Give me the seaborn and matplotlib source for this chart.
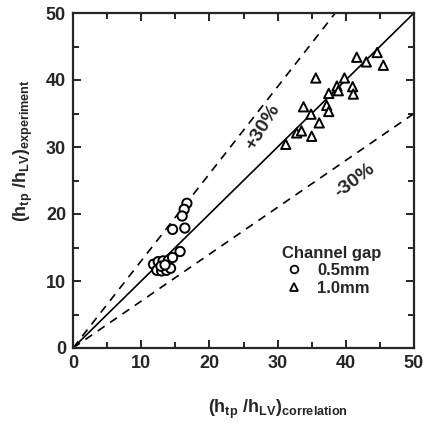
import numpy as np
import pandas as pd
import seaborn as sns
import matplotlib.pyplot as plt
from matplotlib.lines import Line2D
from matplotlib.ticker import MultipleLocator

# 0.5 mm channel gap
x_05 = [16.7, 16.3, 16.0, 16.4, 14.6, 15.7, 11.8, 12.5, 13.2, 14.0, 14.6, 12.3, 13.0, 13.7, 14.3, 12.9, 13.5]
y_05 = [21.6, 20.7, 19.7, 17.9, 17.7, 14.4, 12.5, 12.9, 13.0, 13.1, 13.5, 11.6, 11.5, 11.6, 11.9, 12.2, 12.4]
# 1.0 mm channel gap
x_10 = [41.6, 43.0, 44.6, 45.5, 35.6, 39.8, 38.7, 38.9, 41.0, 41.1, 37.5, 33.8, 37.2, 37.5, 34.9, 36.1, 32.8, 33.5, 35.0, 31.2]
y_10 = [43.4, 42.7, 44.1, 42.2, 40.3, 40.3, 39.1, 38.4, 39.0, 37.9, 38.0, 36.0, 36.2, 35.3, 34.9, 33.6, 32.1, 32.4, 31.6, 30.4]

ticks = [0, 10, 20, 30, 40, 50]
line_x = [0, 50]
line_y = [0, 50]
upper_x = [0, 50 / 1.3]
upper_y = [0, 50]
lower_x = [0, 50]
lower_y = [0, 35]

df = pd.DataFrame({
    'corr': x_05 + x_10,
    'exp': y_05 + y_10,
    'gap': ['0.5mm'] * len(x_05) + ['1.0mm'] * len(x_10),
})

sns.set_style('ticks')
plt.rcParams['font.family'] = ['Liberation Sans', 'DejaVu Sans']
plt.rcParams['font.weight'] = 'bold'
plt.rcParams['mathtext.fontset'] = 'custom'
plt.rcParams['mathtext.rm'] = 'Liberation Sans:bold'
plt.rcParams['mathtext.bf'] = 'Liberation Sans:bold'
plt.rcParams['mathtext.it'] = 'Liberation Sans:bold'

fig = plt.figure(figsize=(4.29, 4.30), dpi=100)
ax = fig.add_axes([73 / 429, 1 - 348 / 430, 341 / 429, 335 / 430])

sns.lineplot(x=line_x, y=line_y, color='black', lw=1.2, ax=ax)
sns.lineplot(x=upper_x, y=upper_y, color='black', lw=1.2, ax=ax, linestyle=(0, (5, 4)))
sns.lineplot(x=lower_x, y=lower_y, color='black', lw=1.2, ax=ax, linestyle=(0, (5, 4)))

sns.scatterplot(data=df, x='corr', y='exp', style='gap',
                markers={'0.5mm': 'o', '1.0mm': '^'},
                color='white', edgecolor='black', linewidth=1.4, s=45,
                legend=False, ax=ax, zorder=3)

ax.set_xlim(0, 50)
ax.set_ylim(0, 50)
ax.set_xticks(ticks)
ax.set_yticks(ticks)
ax.xaxis.set_minor_locator(MultipleLocator(5))
ax.yaxis.set_minor_locator(MultipleLocator(5))
ax.tick_params(which='both', direction='in', top=True, right=True, width=1.4)
ax.tick_params(which='major', length=6, labelsize=13, pad=5)
ax.tick_params(which='minor', length=4)
for lab in ax.get_xticklabels() + ax.get_yticklabels():
    lab.set_fontweight('bold')
for s in ax.spines.values():
    s.set_linewidth(1.6)

ax.set_xlabel(r'$(h_{tp}\ /h_{LV})_{correlation}$', fontsize=13)
ax.set_ylabel(r'$(h_{tp}\ /h_{LV})_{experiment}$', fontsize=13)
ax.xaxis.set_label_coords(0.6, -0.15)
ax.yaxis.set_label_coords(-0.11, 0.59)

ax.text(27.8, 33.0, '+30%', rotation=58, fontsize=14, fontweight='bold',
        ha='center', va='center')
ax.text(41.3, 25.0, '-30%', rotation=37, fontsize=14, fontweight='bold',
        ha='center', va='center')

handles = [
    Line2D([], [], marker='o', ls='none', mfc='white', mec='black', mew=1.3, ms=5.5, label='0.5mm'),
    Line2D([], [], marker='^', ls='none', mfc='white', mec='black', mew=1.3, ms=5.5, label='1.0mm'),
]
leg = ax.legend(handles=handles, title='Channel gap', loc='upper left',
                bbox_to_anchor=(0.58, 0.34), frameon=False, fontsize=12,
                handletextpad=0.7, labelspacing=0.15, borderpad=0.2, handlelength=1.4)
leg.get_title().set_fontweight('bold')
leg.get_title().set_fontsize(12)
leg._legend_box.align = 'left'

fig.savefig('out.png', dpi=100)
